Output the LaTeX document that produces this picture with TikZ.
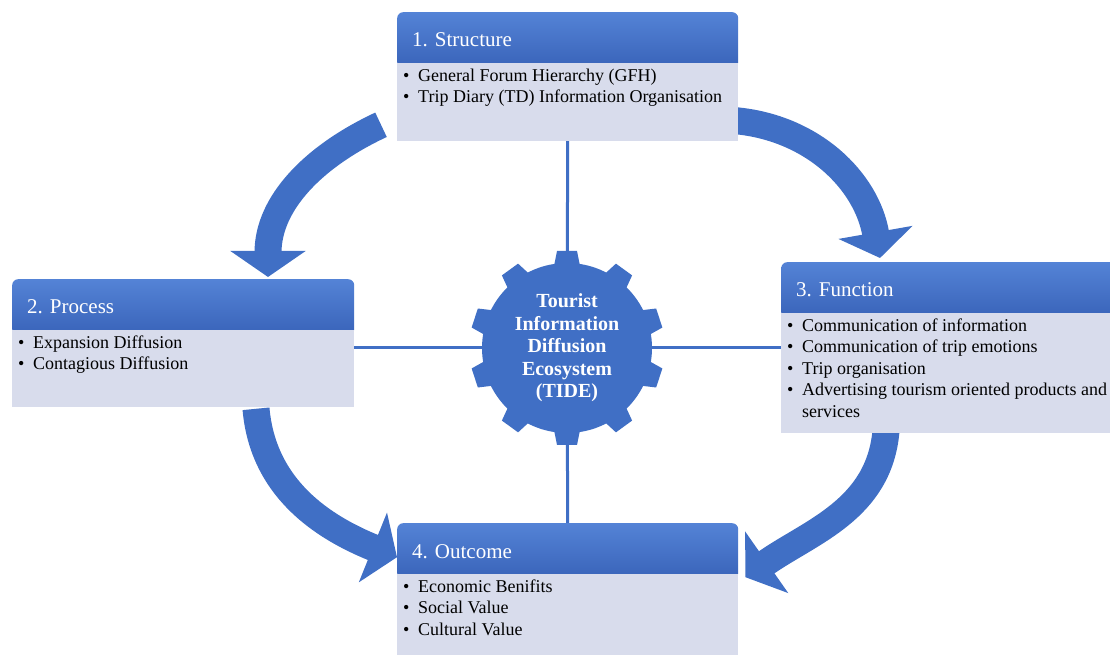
\documentclass[tikz,border=0pt]{standalone}
\usepackage{fontspec}
\setmainfont{Liberation Serif}
\usepackage{tikz}
\usetikzlibrary{calc,arrows.meta,backgrounds,positioning}
\definecolor{headtop}{RGB}{84,131,214}
\definecolor{headbot}{RGB}{57,99,185}
\definecolor{bodyfill}{RGB}{216,220,236}
\definecolor{tideblue}{RGB}{64,111,197}
\newcommand{\itm}[1]{\hangindent=15pt\hangafter=1\noindent\makebox[15pt][l]{\textbullet}#1\par}
\newcommand{\blist}[3]{\parbox[t][#1][t]{#2}{\raggedright\vspace*{6pt}#3}}
\frenchspacing

\begin{document}
\begin{tikzpicture}[x=1pt,y=1pt,
    head/.style={rounded corners=6pt,top color=headtop,bottom color=headbot,text=white,
      font=\fontsize{21}{24}\selectfont,align=left,inner xsep=15pt,minimum height=56pt,anchor=north west},
    body/.style={fill=bodyfill,inner xsep=6pt,inner ysep=0pt,anchor=north,font=\fontsize{18}{21.5}\selectfont},
    link/.style={draw=tideblue,line width=3pt},
    bigarrow/.style={draw=tideblue,line width=27pt,-{Triangle[length=26pt,width=74pt]}},
    cog/.style={circle,fill=tideblue,minimum size=170pt,text=white,align=center,
      font=\bfseries\fontsize{20}{22.5}\selectfont}]
  \useasboundingbox (0,0) rectangle (1110,655);
  \clip (0,0) rectangle (1110,655);

  \node[head,text width=311pt] (ST) at (397,643) {1. Structure};
  \node[body] (STb) at ([yshift=6pt]ST.south) {\blist{78pt}{329pt}{%
      \itm{General Forum Hierarchy (GFH)}
      \itm{Trip Diary (TD) Information Organisation}}};

  \node[head,text width=312pt] (PR) at (12,376) {2. Process};
  \node[body] (PRb) at ([yshift=6pt]PR.south) {\blist{77pt}{330pt}{%
      \itm{Expansion Diffusion}
      \itm{Contagious Diffusion}}};

  \node[head,text width=315pt] (FU) at (781,393) {3. Function};
  \node[body] (FUb) at ([yshift=6pt]FU.south) {\blist{120pt}{333pt}{%
      \itm{Communication of information}
      \itm{Communication of trip emotions}
      \itm{Trip organisation}
      \itm{Advertising tourism oriented products and\newline services}}};

  \node[head,text width=311pt] (OU) at (397,132) {4. Outcome};
  \node[body] (OUb) at ([yshift=6pt]OU.south) {\blist{90pt}{329pt}{%
      \itm{Economic Benifits}
      \itm{Social Value}
      \itm{Cultural Value}}};

  \coordinate (hub) at (567,307);
  \foreach \a in {0,...,9}
    \fill[tideblue,shift={(hub)},rotate=90+36*\a] (72,-15) -- (97,-10) -- (97,10) -- (72,15) -- cycle;
  \node[cog] (G) at (hub) {Tourist\\Information\\Diffusion\\Ecosystem\\(TIDE)};

  \begin{scope}[on background layer]
    \draw[link] (STb.south) -- (G);
    \draw[link] (G) -- (OU.north);
    \draw[link] (G -| PRb.east) -- (G);
    \draw[link] (G) -- (G -| FUb.west);
    \draw[bigarrow] ([shift={(-16,16)}]STb.south west) to[out=205,in=90] ([shift={(256,2)}]PR.north west);
    \draw[bigarrow] ([shift={(-4,-19)}]STb.east) to[out=-5,in=100] ([shift={(99,4)}]FU.north west);
    \draw[bigarrow] ([shift={(105,2)}]FUb.south west) to[out=-95,in=35] ([shift={(7,-26)}]OU.east);
    \draw[bigarrow] ([shift={(244,-2)}]PRb.south west) to[out=-85,in=158] ([shift={(0,-6)}]OU.west);
  \end{scope}
\end{tikzpicture}
\end{document}
